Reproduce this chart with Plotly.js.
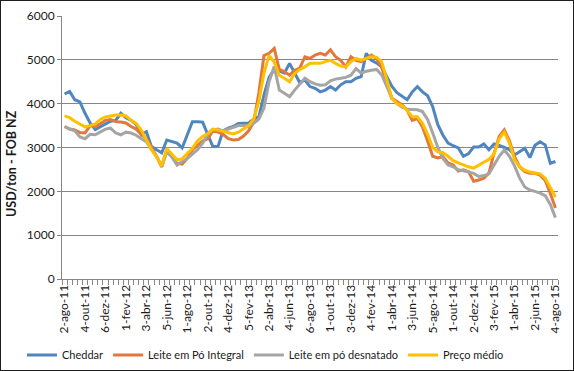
<!DOCTYPE html>
<html>
<head>
<meta charset="utf-8">
<script src="https://cdn.plot.ly/plotly-3.0.1.min.js"></script>
<style>
html,body{margin:0;padding:0;background:#fff;}
#wrap{position:relative;width:574px;height:371px;}
#chart{width:574px;height:371px;}
#frame{position:absolute;left:0;top:0;width:574px;height:371px;box-sizing:border-box;border:1.5px solid #1e1e1e;pointer-events:none;}
</style>
</head>
<body>
<div id="wrap"><div id="chart"></div><div id="frame"></div></div>
<script>
const categories = [
"2-ago-11","16-ago-11","6-set-11","20-set-11",
"4-out-11","18-out-11","1-nov-11","15-nov-11",
"6-dez-11","20-dez-11","4-jan-12","17-jan-12",
"1-fev-12","15-fev-12","6-mar-12","20-mar-12",
"3-abr-12","17-abr-12","1-mai-12","15-mai-12",
"5-jun-12","19-jun-12","3-jul-12","17-jul-12",
"1-ago-12","15-ago-12","4-set-12","18-set-12",
"2-out-12","16-out-12","6-nov-12","20-nov-12",
"4-dez-12","18-dez-12","2-jan-13","15-jan-13",
"5-fev-13","19-fev-13","5-mar-13","19-mar-13",
"2-abr-13","16-abr-13","1-mai-13","15-mai-13",
"4-jun-13","18-jun-13","2-jul-13","16-jul-13",
"6-ago-13","20-ago-13","3-set-13","17-set-13",
"1-out-13","15-out-13","5-nov-13","19-nov-13",
"3-dez-13","17-dez-13","7-jan-14","21-jan-14",
"4-fev-14","18-fev-14","4-mar-14","18-mar-14",
"1-abr-14","15-abr-14","6-mai-14","20-mai-14",
"3-jun-14","17-jun-14","1-jul-14","15-jul-14",
"5-ago-14","19-ago-14","2-set-14","16-set-14",
"1-out-14","15-out-14","4-nov-14","18-nov-14",
"2-dez-14","16-dez-14","6-jan-15","20-jan-15",
"3-fev-15","17-fev-15","3-mar-15","17-mar-15",
"1-abr-15","15-abr-15","5-mai-15","19-mai-15",
"2-jun-15","16-jun-15","7-jul-15","21-jul-15",
"4-ago-15"
];

const cheddar = [
4220,4280,4090,4040, 3780,3560,3410,3470, 3530,3600,3620,3780,
3680,3620,3530,3290, 3360,3020,2950,2880, 3170,3130,3100,2990,
3300,3590,3590,3580, 3300,3020,3020,3380, 3440,3480,3550,3560,
3560,3650,3700,4200, 4600,4780,4750,4700, 4920,4700,4480,4540,
4390,4350,4270,4310, 4390,4310,4430,4500, 4500,4580,4620,5150,
4990,4930,4840,4620, 4400,4250,4160,4090, 4270,4390,4270,4180,
3930,3520,3280,3100, 3040,2990,2800,2860, 3010,3010,3080,2950,
3080,3050,3000,2950, 2830,2900,2980,2770, 3050,3130,3060,2640,
2680
];

const leiteIntegral = [
3480,3420,3400,3340, 3330,3500,3470,3550, 3620,3640,3590,3580,
3560,3480,3420,3300, 3200,3000,2800,2560, 2950,2800,2640,2620,
2750,2950,3050,3150, 3200,3380,3350,3300, 3200,3170,3180,3260,
3380,3580,4250,5100, 5150,5260,4780,4730, 4650,4760,4810,5070,
5030,5110,5150,5110, 5230,5070,4990,4840, 5070,4990,4960,5030,
5110,5030,4840,4470, 4120,4050,3970,3850, 3620,3660,3470,3150,
2800,2760,2790,2650, 2600,2460,2490,2450, 2230,2260,2300,2420,
2870,3250,3400,3150, 2790,2560,2450,2410, 2410,2370,2250,1950,
1620
];

const leiteDesnatado = [
3480,3420,3380,3240, 3200,3300,3290,3350, 3420,3440,3330,3290,
3350,3330,3280,3200, 3130,2950,2800,2560, 2900,2780,2600,2680,
2750,2850,2950,3100, 3300,3400,3420,3380, 3420,3460,3500,3500,
3480,3550,3650,3900, 4500,4850,4310,4240, 4160,4310,4450,4580,
4500,4450,4420,4430, 4520,4560,4580,4600, 4650,4800,4700,4740,
4760,4780,4660,4400, 4130,4000,3920,3870, 3860,3860,3820,3640,
3330,3000,2750,2600, 2560,2490,2470,2440, 2410,2340,2360,2400,
2600,2800,2940,2800, 2580,2300,2100,2030, 2000,1960,1900,1700,
1400
];

const precoMedio = [
3720,3680,3600,3530, 3470,3500,3540,3640, 3700,3720,3740,3740,
3720,3620,3550,3400, 3170,2950,2780,2580, 2980,2850,2720,2740,
2850,2980,3150,3250, 3320,3420,3400,3370, 3330,3310,3350,3420,
3500,3650,4050,4700, 5100,4950,4650,4580, 4500,4690,4780,4840,
4920,4920,4920,4960, 4990,4920,4860,4840, 4960,5030,4990,5030,
5070,5060,4960,4560, 4120,4000,3950,3850, 3700,3700,3550,3300,
3000,2900,2880,2800, 2700,2650,2600,2560, 2530,2600,2680,2730,
2850,3200,3350,3100, 2720,2560,2480,2440, 2420,2400,2300,2080,
1870
];

const seriesNames = ["Cheddar","Leite em Pó Integral","Leite em pó desnatado","Preço médio"];
const seriesColors = ["#4f86c0","#e2783a","#a5a5a5","#ffc000"];
const yTitle = "USD/ton - FOB NZ";
const labelEvery = 4;

const xIdx = categories.map((c, i) => i);
const tickIdx = xIdx.filter(i => i % labelEvery === 0);
const tickTxt = tickIdx.map(i => categories[i]);

const allSeries = [cheddar, leiteIntegral, leiteDesnatado, precoMedio];
const traces = allSeries.map((vals, k) => ({
  type: "scatter",
  mode: "lines",
  name: seriesNames[k],
  x: xIdx,
  y: vals,
  text: categories,
  line: {color: seriesColors[k], width: 3},
  hovertemplate: "%{text}: %{y}<extra>" + seriesNames[k] + "</extra>"
}));

const fontFam = "Lato, 'Open Sans', sans-serif";
const L = 62, R = 16, T = 16, B = 92, W = 574, H = 371;
const pw = W - L - R, ph = H - T - B;

const layout = {
  width: W, height: H,
  margin: {l: L, r: R, t: T, b: B, pad: 0, autoexpand: false},
  paper_bgcolor: "#ffffff",
  plot_bgcolor: "#ffffff",
  font: {family: fontFam, size: 12, color: "#1a1a1a"},
  showlegend: true,
  legend: {
    orientation: "h",
    xref: "container", yref: "container",
    x: 22 / W, xanchor: "left",
    y: 1 - 355 / H, yanchor: "middle",
    font: {family: fontFam, size: 11, color: "#1a1a1a"},
    itemwidth: 30,
    tracegroupgap: 0,
    bgcolor: "rgba(0,0,0,0)"
  },
  xaxis: {
    type: "linear",
    automargin: false,
    range: [-0.5, categories.length - 0.5],
    tickmode: "array",
    tickvals: tickIdx,
    ticktext: tickTxt,
    tickangle: -90,
    ticks: "outside",
    ticklen: 0,
    tickfont: {family: fontFam, size: 12, color: "#1a1a1a"},
    showgrid: false,
    zeroline: false,
    showline: true,
    linecolor: "#868686",
    linewidth: 1,
    minor: {
      tick0: -0.5,
      dtick: 1,
      ticks: "outside",
      ticklen: 5,
      tickcolor: "#868686",
      tickwidth: 1,
      showgrid: false
    }
  },
  yaxis: {
    automargin: false,
    range: [0, 6000],
    dtick: 1000,
    tick0: 0,
    ticks: "outside",
    ticklen: 4,
    tickcolor: "#868686",
    tickfont: {family: fontFam, size: 12, color: "#1a1a1a"},
    showgrid: true,
    gridcolor: "#868686",
    gridwidth: 1,
    zeroline: false,
    showline: true,
    linecolor: "#868686",
    linewidth: 1
  },
  annotations: [{
    text: "<b>" + yTitle + "</b>",
    xref: "paper", yref: "paper",
    x: (12 - L) / pw, y: ((H - B) - 164) / ph,
    xanchor: "center", yanchor: "middle",
    textangle: -90,
    showarrow: false,
    font: {family: fontFam, size: 12.5, color: "#1a1a1a"}
  }]
};

Plotly.newPlot("chart", traces, layout, {displayModeBar: false, staticPlot: true});
</script>
</body>
</html>
